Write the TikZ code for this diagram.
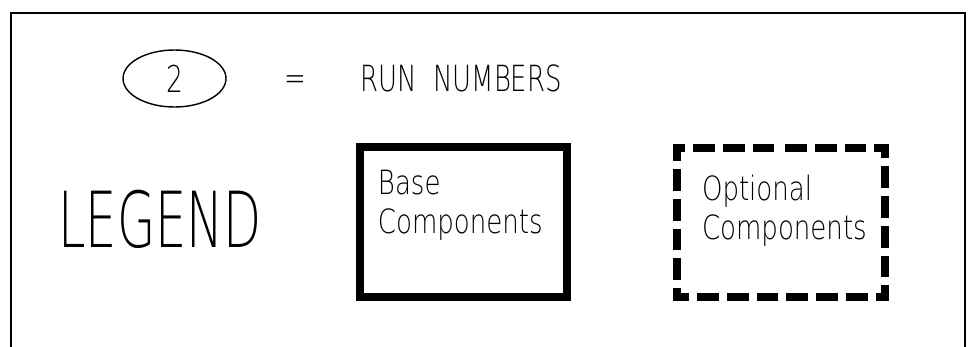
\documentclass[tikz,border=0pt]{standalone}
\usepackage{fontspec}
\newfontfamily\cadcaps{DejaVu Sans ExtraLight}[FakeStretch=0.72]
\newfontfamily\cadwide{DejaVu Sans ExtraLight}[FakeStretch=0.64]
\newfontfamily\cadtext{DejaVu Sans ExtraLight}[FakeStretch=0.78]
\usetikzlibrary{positioning,shapes.geometric}
\definecolor{ink}{HTML}{000000}

\begin{document}
\begin{tikzpicture}[draw=ink,text=ink,frame/.style={line width=1.1pt},runmark/.style={ellipse,draw,line width=.8pt,minimum width=2.06cm,minimum height=1.14cm,inner sep=0pt,font=\cadcaps\fontsize{21}{21}\selectfont},caption/.style={anchor=base west,inner sep=0pt,font=\cadcaps\fontsize{20.5}{21}\selectfont},basebox/.style={draw,line width=5pt,minimum width=4.14cm,minimum height=3cm,inner sep=0pt},optbox/.style={minimum width=4.16cm,minimum height=2.98cm,inner sep=0pt},optline/.style={line width=4.5pt,dash pattern=on .435cm off .16cm,dash phase=.513cm},boxtext/.style={align=left,inner sep=0pt,font=\cadtext\fontsize{19}{22.5}\selectfont}]
 \useasboundingbox (0,0) rectangle (19.36,6.92);
 \draw[frame] (0.22,-0.2) |- (19.3,6.66) -- (19.3,-0.2);
 \node[runmark] (run) at (3.49,5.35) {2};
 \node[caption,anchor=center] (equals) at (5.9,5.25) {=};
 \node[caption] (runs) at (7.2,5.1) {RUN\ \ NUMBERS};
 \node[caption,font=\cadwide\fontsize{44}{44}\selectfont] (legend) at (1.16,1.98) {LEGEND};
 \node[basebox] (base) at (9.27,2.48) {};
 \node[boxtext,below right=.54cm and .44cm of base.north west] (basetext) {Base\\Components};
 \node[optbox] (opt) at (15.62,2.47) {};
 \draw[optline] (opt.north) -- (opt.north east) -- (opt.south east) -- (opt.south west) -- (opt.north west) -- cycle;
 \node[boxtext,below right=.54cm and .5cm of opt.north west] (opttext) {Optional\\Components};
\end{tikzpicture}
\end{document}
